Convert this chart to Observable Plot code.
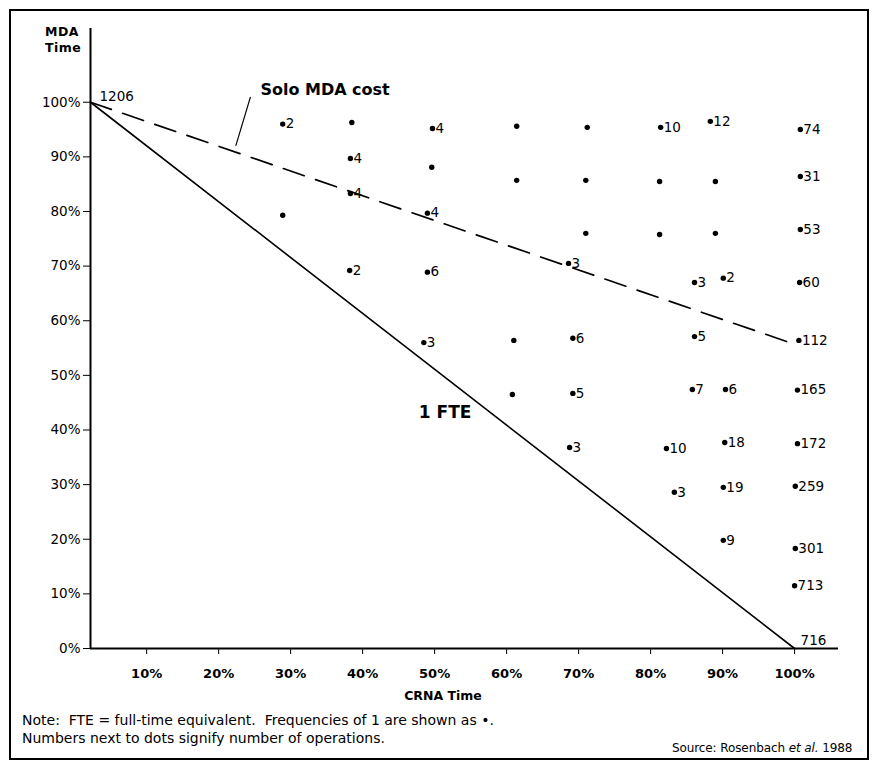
<!DOCTYPE html>
<html>
<head>
<meta charset="utf-8">
<script src="https://cdn.jsdelivr.net/npm/d3@7"></script>
<script src="https://cdn.jsdelivr.net/npm/@observablehq/plot@0.6"></script>
<style>
  html, body { margin: 0; padding: 0; background: #fff; }
  body { width: 879px; height: 766px; position: relative; font-family: "DejaVu Sans", "Liberation Sans", Arial, sans-serif; color: #000; overflow: hidden; }
  #frame { position: absolute; left: 9px; top: 9px; width: 860px; height: 751px; border: 2px solid #000; box-sizing: border-box; }
  #chart { position: absolute; left: 0; top: 0; }
  .ylab { position: absolute; left: 45px; top: 24px; font-weight: bold; font-size: 12.5px; line-height: 16px; letter-spacing: 0.5px; }
  .xlab { position: absolute; left: 400px; top: 688px; width: 86px; text-align: center; font-weight: bold; font-size: 12.5px; white-space: nowrap; }
  .note { position: absolute; left: 22px; font-size: 14px; letter-spacing: 0px; white-space: nowrap; line-height: 17px; }
  .source { position: absolute; left: 672px; top: 741px; font-size: 12px; letter-spacing: -0.1px; white-space: nowrap; }
</style>
</head>
<body>
<div id="frame"></div>
<div id="chart"></div>
<div class="ylab">MDA<br>Time</div>
<div class="xlab">CRNA Time</div>
<div class="note" style="top:712px">Note:&nbsp; FTE = full-time equivalent.&nbsp; Frequencies of 1 are shown as •.</div>
<div class="note" style="top:730px">Numbers next to dots signify number of operations.</div>
<div class="source">Source: Rosenbach <i>et al.</i> 1988</div>
<script>
// CRNA time share (x), MDA time share (y), number of operations (1 = shown as a plain dot)
const crna = [
  0.289, 0.385, 0.497, 0.614, 0.712, 0.814, 0.883, 1.008,
  0.383, 0.496, 0.614, 0.710, 0.8125, 0.890, 1.008,
  0.383, 0.490, 0.289, 0.710, 0.8125, 0.890, 1.008,
  0.382, 0.490, 0.686, 0.861, 0.901, 1.007,
  0.485, 0.610, 0.692, 0.861, 1.006,
  0.608, 0.692, 0.858, 0.904, 1.004,
  0.6875, 0.822, 0.903, 1.004,
  0.833, 0.901, 1.001,
  0.901, 1.001,
  1.000
];
const mda = [
  0.960, 0.963, 0.952, 0.956, 0.954, 0.954, 0.965, 0.950,
  0.897, 0.881, 0.857, 0.857, 0.855, 0.855, 0.864,
  0.833, 0.797, 0.793, 0.760, 0.758, 0.760, 0.767,
  0.692, 0.689, 0.705, 0.670, 0.678, 0.670,
  0.560, 0.564, 0.568, 0.571, 0.564,
  0.465, 0.467, 0.474, 0.474, 0.473,
  0.368, 0.366, 0.377, 0.375,
  0.286, 0.295, 0.297,
  0.198, 0.183,
  0.115
];
const operations = [
  2, 1, 4, 1, 1, 10, 12, 74,
  4, 1, 1, 1, 1, 1, 31,
  4, 4, 1, 1, 1, 1, 53,
  2, 6, 3, 3, 2, 60,
  3, 1, 6, 5, 112,
  1, 5, 7, 6, 165,
  3, 10, 18, 172,
  3, 19, 259,
  9, 301,
  713
];

const xTicks = [0.1, 0.2, 0.3, 0.4, 0.5, 0.6, 0.7, 0.8, 0.9, 1.0];
const yTicks = [0, 0.1, 0.2, 0.3, 0.4, 0.5, 0.6, 0.7, 0.8, 0.9, 1.0];

// Reference lines: 1 FTE (solid) and Solo MDA cost (dashed)
const fteLine = [{x: 0.022, y: 1.0, label: "1206"}, {x: 1.0, y: 0.0, label: "716"}];
const soloLine = [{x: 0.022, y: 1.0}, {x: 1.0, y: 0.557}];

// Annotation text anchors and pointer
const soloLabel = [{x: 0.258, y: 1.022, text: "Solo MDA cost"}];
const soloPointer = [{x: 0.244, y: 1.009}, {x: 0.224, y: 0.921}];
const fteLabel = [{x: 0.478, y: 0.432, text: "1 FTE"}];

const xDomain = [0.022, 1.061];
const yDomain = [0, 1.135];

const points = crna.map((x, i) => ({x, y: mda[i], n: operations[i]}));
const fmt = d3.format(".0%");
const FONT = '"DejaVu Sans", "Liberation Sans", Arial, sans-serif';

const chart = Plot.plot({
  width: 879,
  height: 680,
  marginLeft: 90,
  marginRight: 41,
  marginTop: 28,
  marginBottom: 32,
  style: {fontFamily: FONT, fontSize: "13px", color: "#000", background: "transparent"},
  x: {domain: xDomain},
  y: {domain: yDomain},
  marks: [
    Plot.axisY({ticks: yTicks, tickFormat: fmt, tickSize: 7, tickPadding: 3, label: null, fontSize: 13.5}),
    Plot.axisX({ticks: xTicks, tickFormat: fmt, tickSize: 6, tickPadding: 14, label: null, fontSize: 13, fontWeight: "bold"}),
    Plot.ruleX([xDomain[0]], {y1: 0, y2: yDomain[1], stroke: "#000", strokeWidth: 2}),
    Plot.ruleY([0], {x1: xDomain[0], x2: xDomain[1], stroke: "#000", strokeWidth: 2}),
    Plot.line(fteLine, {x: "x", y: "y", stroke: "#000", strokeWidth: 1.6}),
    Plot.line(soloLine, {x: "x", y: "y", stroke: "#000", strokeWidth: 1.7, strokeDasharray: "22,12"}),
    Plot.line(soloPointer, {x: "x", y: "y", stroke: "#000", strokeWidth: 1.2}),
    Plot.text([fteLine[0]], {x: "x", y: "y", text: "label", dx: 9, dy: -6, textAnchor: "start", fontSize: 13.5}),
    Plot.text([fteLine[1]], {x: "x", y: "y", text: "label", dx: 6, dy: -8, textAnchor: "start", fontSize: 13.5}),
    Plot.text(soloLabel, {x: "x", y: "y", text: "text", textAnchor: "start", fontSize: 16, fontWeight: "bold"}),
    Plot.text(fteLabel, {x: "x", y: "y", text: "text", textAnchor: "start", fontSize: 17, fontWeight: "bold"}),
    Plot.dot(points, {x: "x", y: "y", r: 2.7, fill: "#000", stroke: null}),
    Plot.text(points.filter(d => d.n > 1), {x: "x", y: "y", text: d => String(d.n), dx: 3, textAnchor: "start", fontSize: 13.5})
  ]
});
document.getElementById("chart").appendChild(chart);
</script>
</body>
</html>
